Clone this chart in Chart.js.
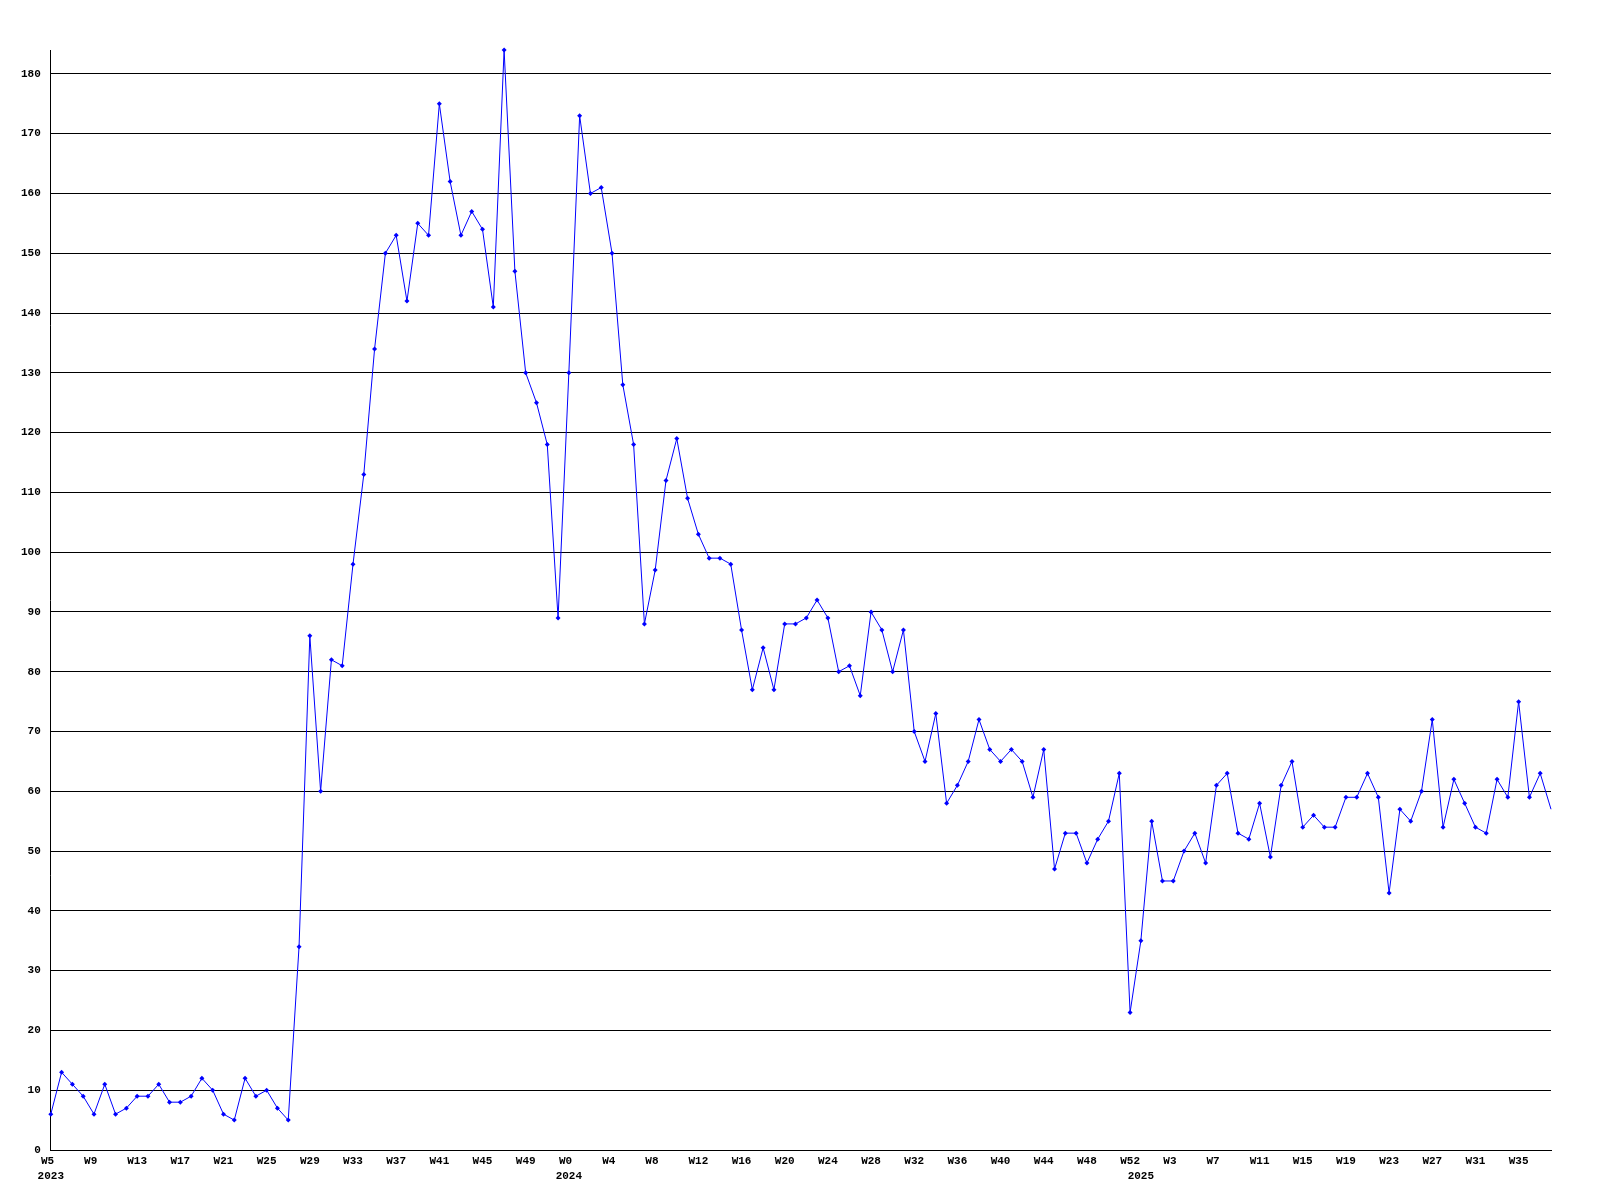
<!DOCTYPE html>
<html>
<head>
<meta charset="utf-8">
<title>Weekly count</title>
<script src="https://cdn.jsdelivr.net/npm/chart.js@4/dist/chart.umd.min.js"></script>
<style>
  body { margin: 0; background: #fff; }
</style>
</head>
<body>
<canvas id="chart" width="1600" height="1200"></canvas>
<script>
// years shown under the first week of each year
const years = ["2023", "2024", "2025"];

// week numbers, one per point
const weeks2023 = [5,6,7,8,9,10,11,12,13,14,15,16,17,18,19,20,21,22,23,24,25,26,27,28,29,30,
  31,32,33,34,35,36,37,38,39,40,41,42,43,44,45,46,47,48,49,50,51,52];
const weeks2024 = [0,1,2,3,4,5,6,7,8,9,10,11,12,13,14,15,16,17,18,19,20,21,22,23,24,25,26,
  27,28,29,30,31,32,33,34,35,36,37,38,39,40,41,42,43,44,45,46,47,48,49,50,51,52];
const weeks2025 = [0,1,2,3,4,5,6,7,8,9,10,11,12,13,14,15,16,17,18,19,20,21,22,23,24,25,26,
  27,28,29,30,31,32,33,34,35,36,37,38];

// weekly values
const values2023 = [6,13,11,9,6,11,6,7,9,9,11,8,8,9,12,10,6,5,12,9,10,7,5,34,86,60,82,81,
  98,113,134,150,153,142,155,153,175,162,153,157,154,141,184,147,130,125,118,89];
const values2024 = [130,173,160,161,150,128,118,88,97,112,119,109,103,99,99,98,87,77,84,77,
  88,88,89,92,89,80,81,76,90,87,80,87,70,65,73,58,61,65,72,67,65,67,65,59,67,47,53,53,48,
  52,55,63,23];
const values2025 = [35,55,45,45,50,53,48,61,63,53,52,58,49,61,65,54,56,54,54,59,59,63,59,
  43,57,55,60,72,54,62,58,54,53,62,59,75,59,63,57];

let labels = [];
let yearAt = {};
[weeks2023, weeks2024, weeks2025].forEach((wk, y) => {
  yearAt[labels.length] = years[y];
  wk.forEach(w => labels.push("W" + w));
});
const values = values2023.concat(values2024, values2025);

const tickFont = { family: "'Liberation Mono', 'DejaVu Sans Mono', monospace", size: 11, weight: "bold", lineHeight: "15px" };

const ctx = document.getElementById("chart").getContext("2d");
const chart = new Chart(ctx, {
  type: "line",
  data: {
    labels: labels,
    datasets: [{
      data: values,
      borderColor: "#0000ff",
      backgroundColor: "#0000ff",
      borderWidth: 1,
      tension: 0,
      fill: false,
      pointStyle: "rectRot",
      pointRadius: c => (c.dataIndex === values.length - 1 ? 0 : 2.5),
      pointBorderWidth: 0,
      clip: false
    }]
  },
  options: {
    responsive: false,
    animation: false,
    layout: { padding: { left: 11, top: 50, right: 49, bottom: 12 } },
    plugins: { legend: { display: false }, tooltip: { enabled: false } },
    scales: {
      x: {
        grid: { display: false, drawTicks: false },
        border: { display: true, color: "#000", width: 1 },
        ticks: {
          autoSkip: false,
          maxRotation: 0,
          minRotation: 0,
          padding: 4,
          color: "#000",
          font: tickFont,
          callback: function (val, i) {
            let wk = i % 4 === 0 ? labels[i] : "";
            if (wk.length === 2) wk += " ";
            const yr = yearAt[i];
            if (yr) return [wk, yr];
            return wk;
          }
        }
      },
      y: {
        min: 0,
        max: 184,
        grid: { color: "#000", lineWidth: 1, drawTicks: false },
        border: { display: true, color: "#000", width: 1 },
        afterBuildTicks: s => { s.ticks = s.ticks.filter(t => t.value % 10 === 0); },
        ticks: {
          stepSize: 10,
          includeBounds: false,
          padding: 10,
          color: "#000",
          font: tickFont
        }
      }
    }
  }
});
</script>
</body>
</html>
